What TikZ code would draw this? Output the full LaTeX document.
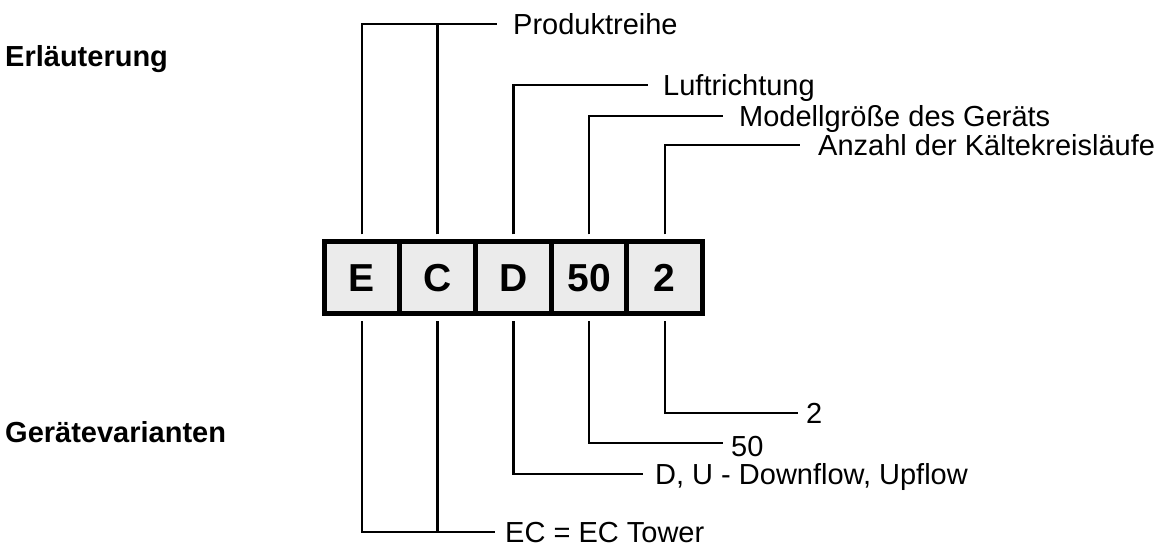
\documentclass[tikz,border=0pt]{standalone}
\usepackage{fontspec}
\setmainfont{Liberation Sans}
\usetikzlibrary{positioning}
\definecolor{CellFill}{HTML}{EBEBEB}
\definecolor{Ink}{HTML}{000000}

\begin{document}
\begin{tikzpicture}[x=1pt,y=1pt, cell/.style={draw=Ink,fill=CellFill,line width=5pt,outer sep=0pt,minimum width=75.7pt,minimum height=72pt,inner sep=0pt,text height=28pt,text depth=0pt,font=\fontsize{39}{44}\selectfont\bfseries}, lead/.style={draw=Ink,line width=2.6pt}, lbl/.style={inner sep=0pt,text height=20.8pt,text depth=0pt,font=\fontsize{29}{34}\selectfont}, head/.style={inner sep=0pt,font=\fontsize{29}{34}\selectfont\bfseries}]
\fill[white] (0,0) rectangle (1167,546);
\useasboundingbox (0,0) rectangle (1167,546);
\node[head,anchor=base west] (expl) at (5,479) {Erläuterung};
\node[head,anchor=base west] (vari) at (5,103) {Gerätevarianten};
% type code boxes
\node[cell] (cellE) at (362,268.5) {E};
\node[cell,right=0pt of cellE] (cellC) {C};
\node[cell,right=0pt of cellC] (cellD) {D};
\node[cell,right=0pt of cellD] (cell50) {50};
\node[cell,right=0pt of cell50] (cell2) {2};
% upper leads
\coordinate (prodEnd) at (497,522);
\coordinate (luftEnd) at (648,461);
\coordinate (modEnd) at (723,430);
\coordinate (anzEnd) at (800,401);
\node[lbl,anchor=west,right=16pt of prodEnd] (prod) {Produktreihe};
\node[lbl,anchor=west,right=15pt of luftEnd] (luft) {Luftrichtung};
\node[lbl,anchor=west,right=16pt of modEnd] (mod) {Modellgröße des Geräts};
\node[lbl,anchor=west,right=18pt of anzEnd] (anz) {Anzahl der Kältekreisläufe};
\draw[lead] ([yshift=7pt]cellE.north) |- (prodEnd);
\draw[lead] ([yshift=7pt]cellC.north) -- (cellC.north |- prodEnd);
\draw[lead] ([yshift=7pt]cellD.north) |- (luftEnd);
\draw[lead] ([yshift=7pt]cell50.north) |- (modEnd);
\draw[lead] ([yshift=7pt]cell2.north) |- (anzEnd);
% lower leads
\coordinate (ecEnd) at (495,14);
\coordinate (dEnd) at (643,72);
\coordinate (sizeEnd) at (723,103);
\coordinate (circEnd) at (798,133);
\node[lbl,anchor=west,right=10pt of ecEnd] (ec) {EC = EC Tower};
\node[lbl,anchor=west,right=12pt of dEnd] (dirs) {D, U - Downflow, Upflow};
\node[lbl,anchor=west,right=8pt of sizeEnd,yshift=-3pt] (size) {50};
\node[lbl,anchor=west,right=8pt of circEnd] (circ) {2};
\draw[lead] ([yshift=-8pt]cellE.south) |- (ecEnd);
\draw[lead] ([yshift=-8pt]cellC.south) -- (cellC.south |- ecEnd);
\draw[lead] ([yshift=-8pt]cellD.south) |- (dEnd);
\draw[lead] ([yshift=-8pt]cell50.south) |- (sizeEnd);
\draw[lead] ([yshift=-8pt]cell2.south) |- (circEnd);
\end{tikzpicture}
\end{document}
